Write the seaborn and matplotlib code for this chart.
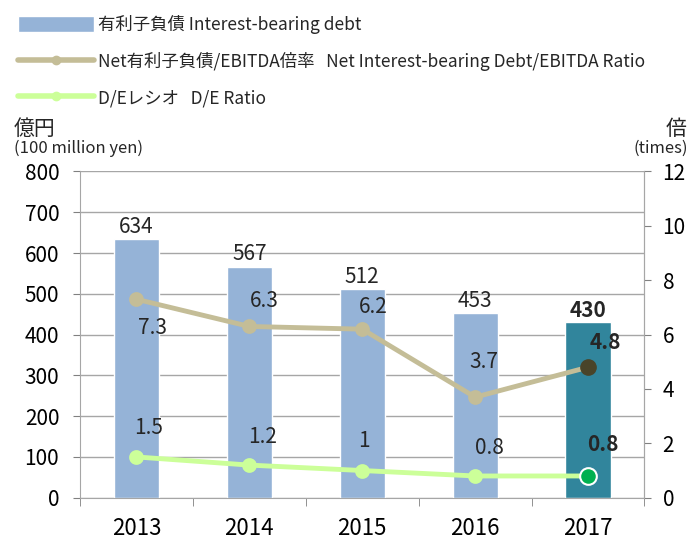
import matplotlib
matplotlib.use("Agg")
import matplotlib.pyplot as plt
import seaborn as sns
import pandas as pd
from matplotlib.patches import Patch
from matplotlib.lines import Line2D

# --- datos ---
years = ["2013", "2014", "2015", "2016", "2017"]
debt = [634, 567, 512, 453, 430]
net_ratio = [7.3, 6.3, 6.2, 3.7, 4.8]
de_ratio = [1.5, 1.2, 1, 0.8, 0.8]
de_labels = ["1.5", "1.2", "1", "0.8", "0.8"]

bar_colors = ["#95B3D7"] * 4 + ["#31859C"]
net_color = "#C4BD97"
de_color = "#CCFF99"

sns.set_style("white")
plt.rcParams["font.family"] = ["Noto Sans CJK JP", "DejaVu Sans"]

df = pd.DataFrame({"year": years, "debt": debt, "net": net_ratio, "de": de_ratio})

fig = plt.figure(figsize=(6.9, 5.41), dpi=100)
ax = fig.add_axes([0.116, 0.08, 0.818, 0.603])

sns.barplot(data=df, x="year", y="debt", hue="year", palette=bar_colors,
            width=0.4, legend=False, ax=ax, zorder=2, saturation=1)
ax.set_ylim(0, 800)
ax.set_yticks(range(0, 801, 100))
ax.yaxis.grid(True, color="#A6A6A6", linewidth=1)
ax.set_axisbelow(True)
ax.set_xlabel("")
ax.set_ylabel("")
ax.set_xlim(-0.5, 4.5)
ax.tick_params(axis="y", labelsize=15, length=5, pad=10, colors="#808080",
               labelcolor="black", left=True)
ax.tick_params(axis="x", length=0, pad=14, labelsize=16, labelcolor="black")
# marcas entre categorías
ax.set_xticks([i - 0.5 for i in range(6)], minor=True)
ax.tick_params(axis="x", which="minor", length=6, color="#808080", bottom=True)
ax.spines["top"].set_visible(False)
for s in ["left", "right", "bottom"]:
    ax.spines[s].set_color("#A6A6A6")

for i, v in enumerate(debt):
    ax.text(i, v + 3, str(v), ha="center", va="bottom", fontsize=15,
            fontweight="bold" if i == 4 else "normal")

ax2 = ax.twinx()
sns.pointplot(data=df, x="year", y="net", color=net_color, markers="o",
              markersize=8, linewidth=3.5, ax=ax2)
sns.pointplot(data=df, x="year", y="de", color=de_color, markers="o",
              markersize=8, linewidth=3.5, ax=ax2)
ax2.plot([4], [net_ratio[4]], "o", color="#494429", markersize=11, zorder=5)
ax2.plot([4], [de_ratio[4]], "o", color="#00B050", markersize=12,
         markeredgecolor="white", markeredgewidth=1.5, zorder=5)
ax2.set_ylim(0, 12)
ax2.set_yticks(range(0, 13, 2))
ax2.set_xlim(-0.5, 4.5)
ax2.set_ylabel("")
ax2.set_xlabel("")
ax2.tick_params(axis="y", labelsize=15, length=5, pad=8, colors="#808080",
                labelcolor="black")
for s in ["top", "left", "bottom"]:
    ax2.spines[s].set_visible(False)
ax2.spines["right"].set_color("#A6A6A6")

# desplazamientos de etiquetas (px)
net_off = [(16, -29), (15, 25), (11, 22), (9, 35), (17, 25)]
de_off = [(12, 29), (13, 28), (2, 30), (14, 28), (15, 31)]
for i, v in enumerate(net_ratio):
    dx, dy = net_off[i]
    ax2.annotate(f"{v}", (i, v), xytext=(dx * 0.72, dy * 0.72),
                 textcoords="offset points", ha="center", va="center",
                 fontsize=15, fontweight="bold" if i == 4 else "normal")
for i, v in enumerate(de_ratio):
    dx, dy = de_off[i]
    ax2.annotate(de_labels[i], (i, v), xytext=(dx * 0.72, dy * 0.72),
                 textcoords="offset points", ha="center", va="center",
                 fontsize=15, fontweight="bold" if i == 4 else "normal")

# títulos de ejes
fig.text(0.02, 0.742, "億円", fontsize=15, ha="left", va="bottom")
fig.text(0.02, 0.71, "(100 million yen)", fontsize=12, ha="left", va="bottom")
fig.text(0.995, 0.742, "倍", fontsize=15, ha="right", va="bottom")
fig.text(0.997, 0.71, "(times)", fontsize=12, ha="right", va="bottom")

# leyenda
handles = [
    Patch(facecolor="#95B3D7"),
    Line2D([0], [0], color=net_color, linewidth=4, marker="o", markersize=6),
    Line2D([0], [0], color=de_color, linewidth=4, marker="o", markersize=6),
]
labels = [
    "有利子負債 Interest-bearing debt",
    "Net有利子負債/EBITDA倍率   Net Interest-bearing Debt/EBITDA Ratio",
    "D/Eレシオ   D/E Ratio",
]
fig.legend(handles, labels, loc="upper left", bbox_to_anchor=(0.008, 0.995),
           frameon=False, fontsize=12.5, handlelength=4.4, handleheight=1.0,
           labelspacing=1.05, handletextpad=0.2, borderaxespad=0.3)

fig.savefig("out.png", dpi=100)
